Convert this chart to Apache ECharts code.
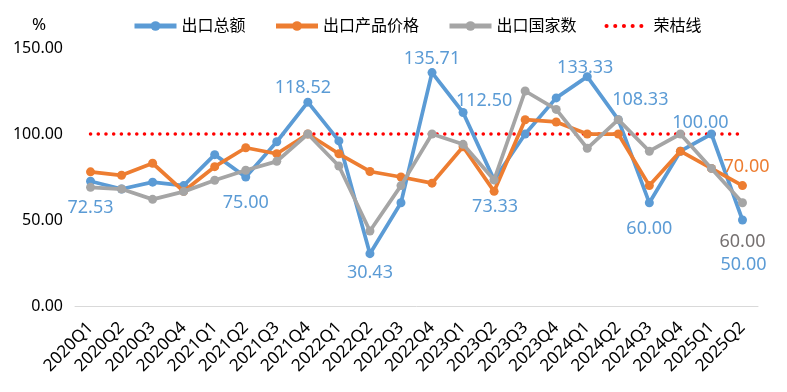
<!DOCTYPE html>
<html>
<head>
<meta charset="utf-8">
<script src="https://cdn.jsdelivr.net/npm/echarts@6/dist/echarts.min.js"></script>
<style>html,body{margin:0;padding:0;background:#fff}#c{width:787px;height:392px}</style>
</head>
<body>
<div id="c"></div>
<script>
const categories = ['2020Q1','2020Q2','2020Q3','2020Q4','2021Q1','2021Q2','2021Q3','2021Q4','2022Q1','2022Q2','2022Q3','2022Q4','2023Q1','2023Q2','2023Q3','2023Q4','2024Q1','2024Q2','2024Q3','2024Q4','2025Q1','2025Q2'];
const exportTotal = [72.53,68,72,70,88,75.00,95.5,118.52,96,30.43,60,135.71,112.50,73.33,100,121,133.33,108.33,60.00,90,100.00,50.00];
const exportPrice = [78,76,83,66.7,81,92,88.5,100,88.5,78.2,75,71.4,92.6,66.67,108.3,107,100,100,70,90,80,70.00];
const exportCountries = [69,68,62,66.5,73.1,78.9,84.1,100,81.4,43.6,70,100,94,73.3,125,114.3,91.7,108.33,90,100,80,60.00];
const prosperity = categories.map(() => 100);
const yTicks = [0, 50, 100, 150];
const seriesNames = ['出口总额','出口产品价格','出口国家数','荣枯线'];

const FONT = "'Noto Sans', 'Noto Sans CJK SC', sans-serif";
const COLORS = ['#5B9BD5', '#ED7D31', '#A5A5A5', '#FF0000'];
const LABEL_COLORS = ['#5B9BD5', '#ED7D31', '#767171'];

// label placement (offset from point centre) per series, by category index
const labelPlacement = [
  {0:[0,27],5:[0,26],7:[-5,-14],9:[0,19],11:[0,-14],12:[21,-12],13:[1,27],16:[-2,-9],17:[22,-20],18:[0,26],20:[-11,-11],21:[1,45]},
  {21:[4,-19]},
  {21:[0,39]}
];

function buildData(values, si) {
  return values.map((v, i) => {
    const off = labelPlacement[si][i];
    if (!off) return v;
    return {
      value: v,
      label: {
        show: true, position: 'inside', offset: off,
        formatter: (p) => Number(p.value).toFixed(2),
        color: LABEL_COLORS[si], fontSize: 18, fontFamily: FONT,
        align: 'center', verticalAlign: 'middle'
      }
    };
  });
}

function lineSeries(name, values, si) {
  return {
    name, type: 'line', data: buildData(values, si),
    symbol: 'circle', symbolSize: 9, z: 3 + si,
    itemStyle: { color: COLORS[si] },
    lineStyle: { color: COLORS[si], width: 3.75 },
    label: { show: false },
    emphasis: { disabled: true },
    animation: false
  };
}

const dotted = { color: COLORS[3], width: 3.5, type: [0.1, 7.6], cap: 'round' };

const chart = echarts.init(document.getElementById('c'), null, { renderer: 'canvas' });
chart.setOption({
  animation: false,
  backgroundColor: '#fff',
  textStyle: { fontFamily: FONT },
  title: { text: '%', left: 27, top: 12, textStyle: { fontSize: 17, fontWeight: 'normal', color: '#000', fontFamily: FONT } },
  legend: {
    data: [
      { name: seriesNames[0] },
      { name: seriesNames[1] },
      { name: seriesNames[2] },
      { name: seriesNames[3], itemStyle: { color: 'rgba(0,0,0,0)', opacity: 0 }, lineStyle: { width: 4, type: [0.1, 8.6], cap: 'round', color: COLORS[3] } }
    ],
    left: 127, top: 13, itemGap: 28, itemWidth: 42, itemHeight: 12,
    lineStyle: { width: 5 },
    textStyle: { fontSize: 16, color: '#000', fontFamily: FONT }
  },
  grid: { left: 75, right: 29, top: 48, bottom: 86, containLabel: false },
  xAxis: {
    type: 'category', data: categories, boundaryGap: true,
    axisLine: { lineStyle: { color: '#D9D9D9', width: 1 } },
    axisTick: { show: false },
    axisLabel: { rotate: 45, fontSize: 17, color: '#000', margin: 19, interval: 0, fontFamily: FONT }
  },
  yAxis: {
    type: 'value', min: yTicks[0], max: yTicks[yTicks.length - 1], interval: 50,
    axisLine: { show: false }, axisTick: { show: false }, splitLine: { show: false },
    axisLabel: { formatter: (v) => v.toFixed(2), fontSize: 16, color: '#000', margin: 12, fontFamily: FONT }
  },
  series: [
    lineSeries(seriesNames[0], exportTotal, 0),
    lineSeries(seriesNames[1], exportPrice, 1),
    lineSeries(seriesNames[2], exportCountries, 2),
    {
      name: seriesNames[3], type: 'line', data: prosperity, symbol: 'none', z: 2,
      itemStyle: { color: COLORS[3] },
      lineStyle: dotted,
      emphasis: { disabled: true }, animation: false
    }
  ]
});
</script>
</body>
</html>
